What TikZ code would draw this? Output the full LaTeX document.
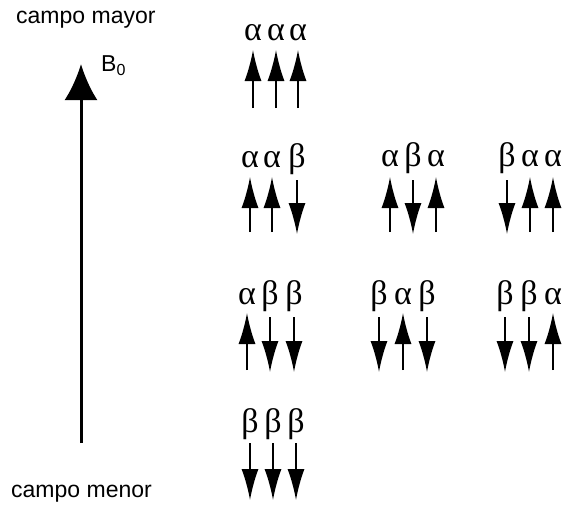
\documentclass[tikz,border=0pt]{standalone}
\usepackage{fontspec}
\setmainfont{Liberation Sans}
\newfontfamily\grk{Liberation Serif}
\usetikzlibrary{arrows.meta}
\tikzset{
  lbl/.style={inner sep=0pt, font=\fontsize{23}{26}\selectfont},
  grl/.style={inner sep=0pt, anchor=base, font=\grk\fontsize{34}{38}\selectfont},
  spin/.style={line width=1.5pt, -{Latex[length=31pt,width=17pt]}},
  bigarrow/.style={line width=3pt, -{Latex[length=36pt,width=33pt]}}
}
\newcommand{\upspin}[4]{% name, x, ytop, ybot
  \coordinate (#1b) at (#2,#4); \coordinate (#1t) at (#2,#3);
  \draw[spin] (#1b) -- (#1t);}
\newcommand{\dnspin}[4]{%
  \coordinate (#1b) at (#2,#4); \coordinate (#1t) at (#2,#3);
  \draw[spin] (#1t) -- (#1b);}
\begin{document}
\begin{tikzpicture}[x=1pt,y=-1pt]
\useasboundingbox (0,0) rectangle (566,509);
% main field arrow
\node[lbl, anchor=west] (mayor) at (16,20) {campo mayor};
\node[lbl, anchor=west] (menor) at (11,494) {campo menor};
\node[inner sep=0pt, anchor=base west, font=\fontsize{23}{26}\selectfont] (B0) at (101,71) {B\raisebox{-0.4ex}{\fontsize{16}{16}\selectfont 0}};
\coordinate (fb) at (81,443);
\coordinate (ft) at (81,64);
\draw[bigarrow] (fb) -- (ft);

% Row 1: aaa
\node[grl] (r1a) at (253,40) {α};
\node[grl] (r1b) at (276,40) {α};
\node[grl] (r1c) at (298,40) {α};
\upspin{s11}{253}{50}{108}
\upspin{s12}{276}{50}{108}
\upspin{s13}{298}{50}{108}

% Row 2
\node[grl] (r2a) at (250,167) {α};
\node[grl] (r2b) at (272,167) {α};
\node[grl] (r2c) at (297,167) {β};
\upspin{s21}{250}{177}{232}
\upspin{s22}{272}{177}{232}
\dnspin{s23}{297}{180}{234}

\node[grl] (r2d) at (390,166) {α};
\node[grl] (r2e) at (413,166) {β};
\node[grl] (r2f) at (436,166) {α};
\upspin{s24}{390}{177}{232}
\dnspin{s25}{413}{180}{234}
\upspin{s26}{436}{177}{232}

\node[grl] (r2g) at (507,166) {β};
\node[grl] (r2h) at (530,166) {α};
\node[grl] (r2i) at (553,166) {α};
\dnspin{s27}{507}{180}{234}
\upspin{s28}{530}{177}{232}
\upspin{s29}{553}{177}{232}

% Row 3
\node[grl] (r3a) at (247,304) {α};
\node[grl] (r3b) at (270,304) {β};
\node[grl] (r3c) at (294,304) {β};
\upspin{s31}{247}{313}{370}
\dnspin{s32}{270}{317}{372}
\dnspin{s33}{294}{317}{372}

\node[grl] (r3d) at (379,304) {β};
\node[grl] (r3e) at (403,304) {α};
\node[grl] (r3f) at (427,304) {β};
\dnspin{s34}{379}{317}{372}
\upspin{s35}{403}{313}{370}
\dnspin{s36}{427}{317}{372}

\node[grl] (r3g) at (505,304) {β};
\node[grl] (r3h) at (529,304) {β};
\node[grl] (r3i) at (553,304) {α};
\dnspin{s37}{505}{317}{372}
\dnspin{s38}{529}{317}{372}
\upspin{s39}{553}{313}{370}

% Row 4
\node[grl] (r4a) at (250,432) {β};
\node[grl] (r4b) at (273,432) {β};
\node[grl] (r4c) at (296,432) {β};
\dnspin{s41}{250}{443}{500}
\dnspin{s42}{273}{443}{500}
\dnspin{s43}{296}{443}{500}
\end{tikzpicture}
\end{document}
